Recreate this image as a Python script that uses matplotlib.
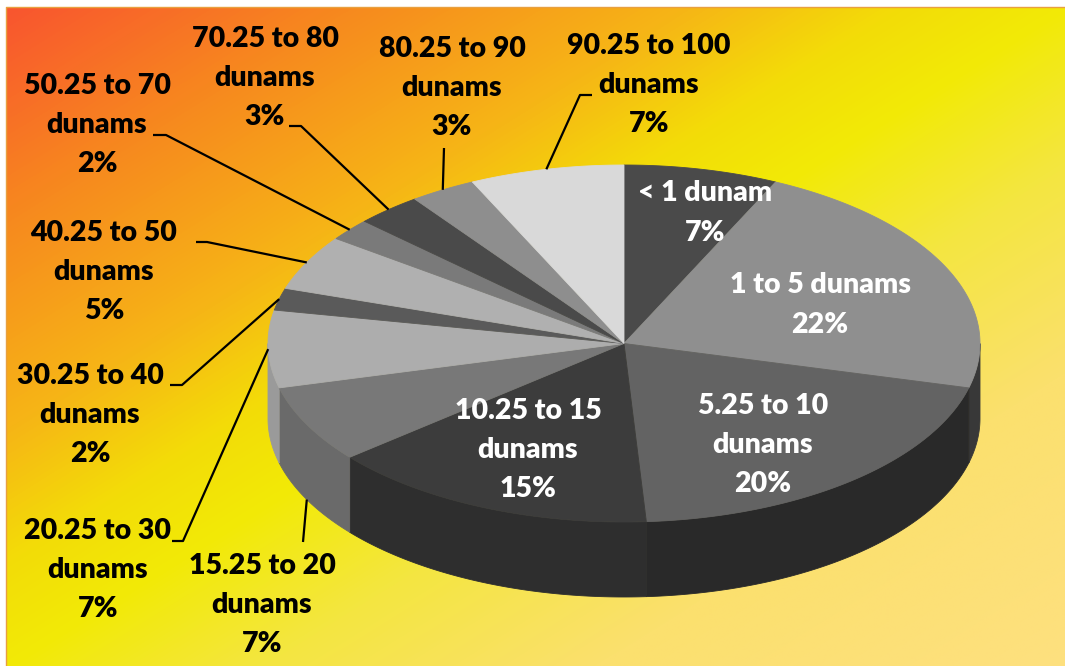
import numpy as np
import matplotlib.pyplot as plt
from matplotlib.colors import LinearSegmentedColormap
from matplotlib.patches import Polygon

# Data
categories = ["< 1 dunam", "1 to 5 dunams", "5.25 to 10 dunams", "10.25 to 15 dunams",
              "15.25 to 20 dunams", "20.25 to 30 dunams", "30.25 to 40 dunams",
              "40.25 to 50 dunams", "50.25 to 70 dunams", "70.25 to 80 dunams",
              "80.25 to 90 dunams", "90.25 to 100 dunams"]
shares = [7, 22, 20, 15, 7, 7, 2, 5, 2, 3, 3, 7]
label_names = ["< 1 dunam", "1 to 5 dunams", "5.25 to 10\ndunams", "10.25 to 15\ndunams",
               "15.25 to 20\ndunams", "20.25 to 30\ndunams", "30.25 to 40\ndunams",
               "40.25 to 50\ndunams", "50.25 to 70\ndunams", "70.25 to 80\ndunams",
               "80.25 to 90\ndunams", "90.25 to 100\ndunams"]

# slice colours (top face / side wall)
top_colors = ['#4a4a4a', '#8f8f8f', '#636363', '#3c3c3c', '#787878', '#adadad',
              '#5a5a5a', '#b0b0b0', '#7a7a7a', '#4a4a4a', '#8e8e8e', '#d9d9d9']
side_colors = ['#303030', '#383838', '#292929', '#2e2e2e', '#6a6a6a', '#9a9a9a',
               '#4a4a4a', '#909090', '#666666', '#3a3a3a', '#767676', '#bbbbbb']

# label layout (pixel coords of figure), leader elbow points, rim used for anchor
inside = [True, True, True, True] + [False] * 8
label_pos = [(705, 213), (820, 305), (763, 445), (528, 450), (262, 605), (98, 570),
             (90, 415), (104, 272), (97, 125), (265, 78), (452, 88), (649, 85)]
leader_pts = [None, None, None, None,
              [(303, 542)],
              [(172, 541), (183, 541)],
              [(170, 385), (182, 385)],
              [(196, 242), (207, 242)],
              [(153, 135), (166, 135)],
              [(289, 126), (301, 126)],
              [(444, 148)],
              [(592, 95), (580, 95)]]
leader_on_bottom = [False] * 4 + [True] + [False] * 7

W, H = 1065, 666
fig = plt.figure(figsize=(W / 100, H / 100), dpi=100)
fig.patch.set_facecolor('white')
ax = fig.add_axes([0, 0, 1, 1])
ax.set_xlim(0, W)
ax.set_ylim(H, 0)
ax.axis('off')

# gradient background
yy, xx = np.mgrid[0:H, 0:W]
t = (xx / W + yy / H) / 2
bg = LinearSegmentedColormap.from_list('bg', [(0, '#f9552f'), (0.15, '#f7861f'), (0.32, '#f6b516'),
                                              (0.42, '#f3dc08'), (0.5, '#f2ea06'), (0.62, '#f4e640'),
                                              (0.78, '#fbe06e'), (1, '#fee07f')])
ax.imshow(t, cmap=bg, vmin=0, vmax=1, extent=[6, W, H, 7], aspect='auto', zorder=0)
ax.plot([6, 6, W], [H, 7, 7], color='#e8a040', lw=1, zorder=1)

# 3d pie geometry
cx, cy, a, b, depth = 624, 343.5, 356, 178.5, 75


def rim(theta, drop=0.0):
    r = np.radians(theta)
    return cx + a * np.sin(r), cy - b * np.cos(r) + drop


bounds = np.concatenate([[0], np.cumsum(shares)]) * 3.6

# side walls
for i in range(len(shares)):
    lo, hi = max(bounds[i], 90), min(bounds[i + 1], 270)
    if lo >= hi:
        continue
    th = np.linspace(lo, hi, 120)
    x1, y1 = rim(th)
    x2, y2 = rim(th[::-1], depth)
    pts = np.column_stack([np.concatenate([x1, x2]), np.concatenate([y1, y2])])
    ax.add_patch(Polygon(pts, closed=True, facecolor=side_colors[i], edgecolor=side_colors[i],
                         lw=0.6, zorder=2))

# top face
for i in range(len(shares)):
    th = np.linspace(bounds[i], bounds[i + 1], 200)
    x, y = rim(th)
    pts = np.column_stack([np.concatenate([[cx], x]), np.concatenate([[cy], y])])
    ax.add_patch(Polygon(pts, closed=True, facecolor=top_colors[i], edgecolor=top_colors[i],
                         lw=0.6, zorder=3))

# labels
for i, name in enumerate(label_names):
    txt = f"{name}\n{shares[i]}%"
    x, y = label_pos[i]
    ax.text(x, y, txt, ha='center', va='center', multialignment='center',
            fontsize=20.5, fontweight='heavy', family='Lato', linespacing=1.63,
            color='white' if inside[i] else 'black', zorder=5)
    if leader_pts[i] is not None:
        mid = (bounds[i] + bounds[i + 1]) / 2
        ax_, ay_ = rim(mid, depth if leader_on_bottom[i] else 0)
        px = [p[0] for p in leader_pts[i]] + [ax_]
        py = [p[1] for p in leader_pts[i]] + [ay_]
        ax.plot(px, py, color='black', lw=1.6, zorder=4, solid_capstyle='butt')

fig.savefig('out.png', dpi=100)
